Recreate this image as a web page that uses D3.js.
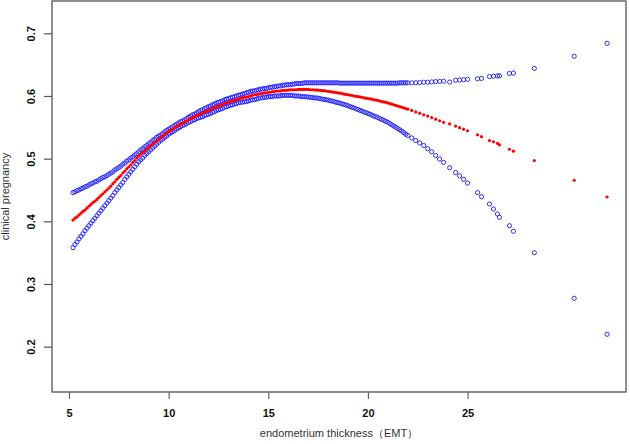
<!DOCTYPE html>
<html>
<head>
<meta charset="utf-8">
<script src="https://cdn.jsdelivr.net/npm/d3@7"></script>
<style>
  html, body { margin: 0; padding: 0; background: #fff; }
  svg { display: block; }
  text { font-family: "Liberation Sans", Arial, sans-serif; }
</style>
</head>
<body>
<svg id="chart" width="630" height="444"></svg>
<script>
// EMT values (mm)
const emt = [
  5.2,5.3,5.4,5.5,5.6,5.7,5.8,5.9,
  6.0,6.1,6.2,6.3,6.4,6.5,6.6,6.7,6.8,6.9,
  7.0,7.1,7.2,7.3,7.4,7.5,7.6,7.7,7.8,7.9,
  8.0,8.1,8.2,8.3,8.4,8.5,8.6,8.7,8.8,8.9,
  9.0,9.1,9.2,9.3,9.4,9.5,9.6,9.7,9.8,9.9,
  10.0,10.1,10.2,10.3,10.4,10.5,10.6,10.7,10.8,10.9,
  11.0,11.1,11.2,11.3,11.4,11.5,11.6,11.7,11.8,11.9,
  12.0,12.1,12.2,12.3,12.4,12.5,12.6,12.7,12.8,12.9,
  13.0,13.1,13.2,13.3,13.4,13.5,13.6,13.7,13.8,13.9,
  14.0,14.1,14.2,14.3,14.4,14.5,14.6,14.7,14.8,14.9,
  15.0,15.1,15.2,15.3,15.4,15.5,15.6,15.7,15.8,15.9,
  16.0,16.1,16.2,16.3,16.4,16.5,16.6,16.7,16.8,16.9,
  17.0,17.1,17.2,17.3,17.4,17.5,17.6,17.7,17.8,17.9,
  18.0,18.1,18.2,18.3,18.4,18.5,18.6,18.7,18.8,18.9,
  19.0,19.1,19.2,19.3,19.4,19.5,19.6,19.7,19.8,19.9,
  20.0,20.1,20.2,20.3,20.4,20.5,20.6,20.7,20.8,20.9,
  21.0,21.1,21.2,21.3,21.4,21.5,21.6,21.7,21.8,21.9,
  22.0,
  22.2,22.4,22.6,22.8,23.0,23.2,23.4,23.6,23.8,24.1,24.4,24.6,24.8,25.0,
  25.5,25.7,26.1,26.3,26.5,26.6,27.1,27.3,28.35,30.35,32.0
];

// fitted probability (red)
const fitted = [
  .402,.405,.407,.410,.413,.416,.418,.421,
  .424,.427,.430,.432,.435,.438,.441,.444,.447,.450,
  .453,.456,.460,.463,.467,.470,.473,.477,.480,.484,
  .487,.490,.494,.497,.501,.504,.507,.510,.512,.515,
  .518,.521,.523,.526,.528,.531,.533,.536,.538,.541,
  .543,.545,.547,.549,.551,.553,.555,.556,.558,.560,
  .562,.564,.565,.567,.568,.570,.571,.573,.574,.576,
  .577,.578,.580,.581,.583,.584,.585,.586,.588,.589,
  .590,.591,.592,.593,.594,.595,.596,.597,.598,.598,
  .599,.600,.601,.602,.602,.603,.604,.604,.605,.605,
  .606,.606,.607,.607,.608,.608,.608,.609,.609,.609,
  .6095,.610,.610,.610,.610,.6105,.6105,.6105,.6105,.6105,
  .6105,.610,.610,.610,.6095,.6095,.609,.6085,.6085,.608,
  .6075,.607,.6065,.606,.6055,.605,.6045,.604,.603,.6025,
  .602,.6015,.601,.600,.5995,.599,.5985,.598,.597,.5965,
  .596,.5955,.595,.594,.5935,.593,.592,.591,.5905,.590,
  .589,.588,.587,.586,.585,.584,.583,.582,.581,.580,
  .579,
  .577,.5745,.5725,.570,.568,.5655,.563,.5605,.558,.5555,.552,.5495,.547,.5445,
  .538,.535,.529,.527,.5245,.522,.515,.512,.497,.4655,.4388
];

// upper 95% CI (blue)
const upper = [
  .446,.447,.449,.450,.452,.453,.455,.456,
  .458,.460,.461,.463,.464,.466,.468,.470,.471,.473,
  .475,.477,.479,.482,.484,.486,.488,.491,.493,.496,
  .498,.501,.503,.506,.508,.511,.514,.516,.519,.521,
  .524,.526,.529,.531,.534,.536,.538,.540,.543,.545,
  .547,.549,.551,.553,.555,.557,.559,.560,.562,.564,
  .566,.568,.570,.571,.573,.575,.577,.578,.580,.581,
  .583,.584,.586,.587,.589,.590,.591,.592,.594,.595,
  .596,.597,.598,.599,.600,.601,.602,.603,.604,.605,
  .606,.607,.608,.608,.609,.610,.611,.611,.612,.612,
  .613,.614,.614,.615,.615,.616,.616,.617,.617,.618,
  .618,.618,.619,.619,.620,.620,.620,.620,.621,.621,
  .621,.621,.621,.621,.621,.621,.621,.621,.621,.621,
  .621,.621,.621,.621,.621,.621,.6205,.6205,.6205,.6205,
  .6205,.6205,.6205,.6205,.6205,.6205,.6205,.6205,.6205,.6205,
  .6205,.6205,.6205,.6205,.6205,.6205,.6205,.6205,.6205,.6205,
  .6205,.6205,.6205,.6205,.6205,.6205,.621,.621,.621,.621,
  .621,
  .621,.6212,.6215,.622,.622,.6225,.623,.6232,.6235,.6222,.625,.6255,.626,.6266,
  .6275,.628,.631,.6315,.632,.6322,.636,.6365,.644,.6633,.684
];

// lower 95% CI (blue)
const lower = [
  .358,.363,.367,.372,.376,.380,.385,.389,
  .393,.397,.401,.405,.409,.413,.417,.421,.425,.429,
  .433,.437,.441,.446,.450,.454,.458,.462,.467,.471,
  .475,.479,.483,.487,.491,.495,.498,.501,.505,.508,
  .511,.514,.517,.520,.523,.526,.529,.531,.534,.536,
  .539,.541,.543,.545,.547,.549,.551,.553,.554,.556,
  .558,.559,.561,.562,.564,.565,.566,.567,.569,.570,
  .571,.572,.574,.575,.577,.578,.579,.580,.582,.583,
  .584,.585,.586,.587,.588,.589,.590,.590,.591,.591,
  .592,.593,.594,.594,.595,.596,.597,.597,.598,.598,
  .599,.599,.599,.600,.600,.600,.600,.601,.601,.601,
  .601,.601,.601,.600,.600,.600,.5995,.599,.599,.5985,
  .5985,.598,.5975,.597,.597,.5965,.596,.595,.5945,.594,
  .5935,.5925,.592,.591,.590,.5895,.5885,.5875,.5865,.5855,
  .5845,.583,.582,.581,.5795,.5785,.577,.576,.5745,.5735,
  .572,.571,.5695,.568,.567,.5655,.564,.5625,.561,.5595,
  .558,.556,.554,.552,.550,.548,.546,.544,.5415,.539,
  .537,
  .533,.529,.525,.521,.516,.511,.505,.4995,.494,.4855,.478,.4725,.467,.461,
  .4457,.4393,.4276,.4196,.4117,.4064,.393,.3841,.3499,.2771,.2197
];

const xTicks = [5, 10, 15, 20, 25];
const yTicks = [0.2, 0.3, 0.4, 0.5, 0.6, 0.7];
const xTitle = "endometrium thickness（EMT）";
const yTitle = "clinical pregnancy";

const svg = d3.select("#chart");
const box = { left: 52, right: 626, top: 1, bottom: 392 };

const x = d3.scaleLinear().domain([4.147, 32.95]).range([box.left, box.right]);
const y = d3.scaleLinear().domain([0.1276, 0.7516]).range([box.bottom, box.top]);

const rows = emt.map((e, i) => ({ e, f: fitted[i], u: upper[i], l: lower[i] }));

// points: CI bounds as open blue circles, fit as red dots
const pts = svg.append("g");
pts.selectAll("circle.u").data(rows).join("circle")
  .attr("class", "u")
  .attr("cx", d => x(d.e)).attr("cy", d => y(d.u)).attr("r", 2.1)
  .attr("fill", "none").attr("stroke", "#1a1aff").attr("stroke-width", 0.9);
pts.selectAll("circle.l").data(rows).join("circle")
  .attr("class", "l")
  .attr("cx", d => x(d.e)).attr("cy", d => y(d.l)).attr("r", 2.1)
  .attr("fill", "none").attr("stroke", "#1a1aff").attr("stroke-width", 0.9);
pts.selectAll("circle.f").data(rows).join("circle")
  .attr("class", "f")
  .attr("cx", d => x(d.e)).attr("cy", d => y(d.f)).attr("r", 1.6)
  .attr("fill", "#ff0000");

// box
svg.append("rect")
  .attr("x", box.left).attr("y", box.top)
  .attr("width", box.right - box.left).attr("height", box.bottom - box.top)
  .attr("fill", "none").attr("stroke", "#555").attr("stroke-width", 1.3);

// x axis
const gx = svg.append("g").attr("transform", `translate(0,${box.bottom})`)
  .call(d3.axisBottom(x).tickValues(xTicks).tickSize(7).tickFormat(d3.format("d")));
gx.select(".domain").remove();
gx.selectAll(".tick line").attr("stroke", "#666").attr("stroke-width", 1.2);
gx.selectAll(".tick text").attr("y", 25).attr("dy", 0)
  .attr("font-size", 11).attr("font-weight", "bold").attr("fill", "#111")
  .style("font-family", "'Liberation Sans', Arial, sans-serif");

// y axis
const gy = svg.append("g").attr("transform", `translate(${box.left},0)`)
  .call(d3.axisLeft(y).tickValues(yTicks).tickSize(8).tickFormat(d3.format(".1f")));
gy.select(".domain").remove();
gy.selectAll(".tick line").attr("stroke", "#555").attr("stroke-width", 1.2);
gy.selectAll(".tick text")
  .attr("x", 0).attr("dy", 0)
  .attr("text-anchor", "middle")
  .attr("transform", "translate(-17,0) rotate(-90)")
  .attr("font-size", 11).attr("font-weight", "bold").attr("fill", "#111")
  .style("font-family", "'Liberation Sans', Arial, sans-serif");

// titles
svg.append("text")
  .attr("x", (box.left + box.right) / 2).attr("y", 437)
  .attr("text-anchor", "middle")
  .attr("font-size", 11).attr("fill", "#333")
  .text(xTitle);
svg.append("text")
  .attr("transform", `translate(9,${(box.top + box.bottom) / 2}) rotate(-90)`)
  .attr("text-anchor", "middle")
  .attr("font-size", 11).attr("fill", "#333")
  .text(yTitle);
</script>
</body>
</html>
